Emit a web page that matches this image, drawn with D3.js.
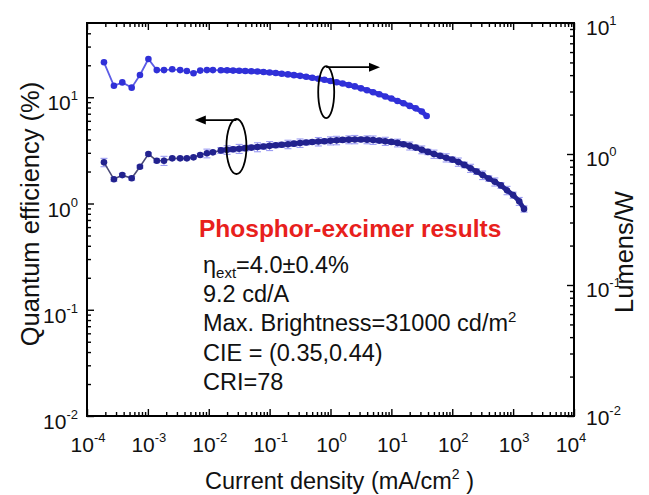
<!DOCTYPE html>
<html>
<head>
<meta charset="utf-8">
<script src="https://cdn.jsdelivr.net/npm/d3@7"></script>
<style>
  html, body { margin: 0; padding: 0; background: #fff; }
  svg { display: block; font-family: "Liberation Sans", Arial, sans-serif; }
</style>
</head>
<body>
<svg id="chart" width="649" height="495"></svg>
<script>
// ---------------- DATA ----------------
// Current density (mA/cm^2) for the Lumens/W series (right axis)
const currentLm = [1.9e-4, 2.77e-4, 3.8e-4, 5.42e-4, 7.41e-4, 1.02e-3, 1.40e-3, 1.84e-3, 2.51e-3, 3.39e-3,
  4.37e-3, 5.62e-3, 7.24e-3, 9.33e-3, 1.17e-2,
  0.0158, 0.02, 0.0251, 0.0316, 0.0398, 0.0501, 0.0631, 0.0794, 0.1, 0.126, 0.158, 0.2, 0.251, 0.316,
  0.398, 0.501, 0.631, 0.794, 1.0, 1.26, 1.58, 2.0, 2.51, 3.16, 3.98, 5.01, 6.31, 7.94, 10, 12.6,
  15.8, 20, 25.1, 31.6, 38];
const lumensPerW = [5.01, 3.32, 3.52, 3.21, 4.01, 5.31, 4.37, 4.37, 4.43, 4.37,
  4.30, 4.13, 4.33, 4.37, 4.37,
  4.36, 4.35, 4.33, 4.32, 4.30, 4.28, 4.26, 4.23, 4.19, 4.15, 4.10, 4.05, 4.00, 3.95,
  3.89, 3.82, 3.75, 3.69, 3.61, 3.53, 3.45, 3.36, 3.28, 3.17, 3.07, 2.96, 2.86, 2.75, 2.65, 2.54,
  2.44, 2.33, 2.23, 2.11, 1.95];

// Current density (mA/cm^2) for the quantum efficiency series (left axis)
const currentQE = [1.9e-4, 2.77e-4, 3.8e-4, 5.42e-4, 7.41e-4, 1.02e-3, 1.40e-3, 1.84e-3, 2.51e-3, 3.39e-3,
  4.37e-3, 5.62e-3, 7.24e-3, 9.33e-3, 1.17e-2,
  0.0158, 0.02, 0.0251, 0.0316, 0.0398, 0.0501, 0.0631, 0.0794, 0.1, 0.126, 0.158, 0.2, 0.251, 0.316,
  0.398, 0.501, 0.631, 0.794, 1, 1.26, 1.58, 2, 2.51, 3.16, 3.98, 5.01, 6.31, 7.94, 10, 12.6,
  15.8, 20, 25.1, 31.6, 39.8, 50.1, 63.1, 79.4, 100, 126, 158, 200, 251, 316, 398, 501, 631, 794,
  1000, 1259, 1510];
const quantumEff = [2.44, 1.69, 1.85, 1.73, 2.22, 2.92, 2.53, 2.53, 2.66, 2.66,
  2.66, 2.72, 2.86, 2.97, 3.03,
  3.16, 3.20, 3.24, 3.28, 3.32, 3.36, 3.40, 3.44, 3.49, 3.53, 3.57, 3.61, 3.66, 3.71,
  3.75, 3.79, 3.83, 3.86, 3.90, 3.93, 3.97, 3.99, 4.01, 4.01, 3.99, 3.96, 3.91, 3.86, 3.80, 3.72,
  3.61, 3.49, 3.36, 3.21, 3.06, 2.92, 2.81, 2.70, 2.59, 2.46, 2.31, 2.15, 2.00, 1.85, 1.72, 1.60,
  1.48, 1.33, 1.20, 1.05, 0.89];
const quantumEffErr = [0.22, 0.07, 0.07, 0.07, 0.07, 0.08, 0.10, 0.25, 0.08, 0.08,
  0.08, 0.08, 0.10, 0.28, 0.12,
  0.20, 0.30, 0.18, 0.32, 0.20, 0.18, 0.33, 0.20, 0.34, 0.18, 0.20, 0.33, 0.20, 0.34,
  0.20, 0.18, 0.35, 0.20, 0.34, 0.36, 0.20, 0.34, 0.36, 0.20, 0.34, 0.36, 0.20, 0.34, 0.20, 0.31,
  0.18, 0.30, 0.18, 0.27, 0.18, 0.26, 0.16, 0.24, 0.15, 0.22, 0.14, 0.19, 0.12, 0.17, 0.10, 0.14,
  0.09, 0.12, 0.08, 0.09, 0.06];
// number of leading, sparsely sampled points (drawn with a thin connecting line)
const sparseCount = 15;

// Axis tick exponents
const xExponents = [-4, -3, -2, -1, 0, 1, 2, 3, 4];
const yLeftExponents = [-2, -1, 0, 1];
const yRightExponents = [-2, -1, 0, 1];

// Text
const xTitle = "Current density (mA/cm";
const yLeftTitle = "Quantum efficiency (%)";
const yRightTitle = "Lumens/W";
const headline = "Phosphor-excimer results";
const infoLines = ["9.2 cd/A", "Max. Brightness=31000 cd/m", "CIE = (0.35,0.44)", "CRI=78"];

// ---------------- CHART ----------------
const svg = d3.select("#chart");
const L = 87, R = 574, T = 23, B = 416;

const x = d3.scaleLog().domain([1e-4, 1e4]).range([L, R]);
const yL = d3.scaleLog().domain([0.01, 50]).range([B, T]);
const yR = d3.scaleLog().domain([0.01, 10]).range([B, T]);

function minorTicks(scale) {
  const [a, b] = scale.domain();
  const out = [];
  for (let e = Math.floor(Math.log10(a)); e <= Math.ceil(Math.log10(b)); e++) {
    for (let m = 2; m <= 9; m++) {
      const v = m * Math.pow(10, e);
      if (v > a && v < b) out.push(v);
    }
  }
  return out;
}
const pow10 = e => Math.pow(10, e);

function addAxis(axis, transform) {
  const g = svg.append("g").attr("transform", transform).call(axis);
  g.select(".domain").remove();
  g.selectAll("line").attr("stroke", "#000").attr("stroke-width", 1.4);
  g.selectAll("text").remove();
}
addAxis(d3.axisBottom(x).tickValues(xExponents.map(pow10)).tickSize(-7), `translate(0,${B})`);
addAxis(d3.axisBottom(x).tickValues(minorTicks(x)).tickSize(-4), `translate(0,${B})`);
addAxis(d3.axisTop(x).tickValues(xExponents.map(pow10)).tickSize(-7), `translate(0,${T})`);
addAxis(d3.axisTop(x).tickValues(minorTicks(x)).tickSize(-4), `translate(0,${T})`);
addAxis(d3.axisLeft(yL).tickValues(yLeftExponents.map(pow10)).tickSize(-7), `translate(${L},0)`);
addAxis(d3.axisLeft(yL).tickValues(minorTicks(yL)).tickSize(-4), `translate(${L},0)`);
addAxis(d3.axisRight(yR).tickValues(yRightExponents.map(pow10)).tickSize(-7), `translate(${R},0)`);
addAxis(d3.axisRight(yR).tickValues(minorTicks(yR)).tickSize(-4), `translate(${R},0)`);

svg.append("rect").attr("x", L).attr("y", T).attr("width", R - L).attr("height", B - T)
  .attr("fill", "none").attr("stroke", "#000").attr("stroke-width", 2);

function powLabel(xPos, yPos, exp, anchor) {
  const t = svg.append("text").attr("x", xPos).attr("y", yPos)
    .attr("text-anchor", anchor).attr("font-size", 21).attr("fill", "#111");
  t.append("tspan").text("10");
  t.append("tspan").attr("dy", -10).attr("font-size", 13).text(String(exp));
}
xExponents.forEach(e => powLabel(x(pow10(e)) + (e === 4 ? -3 : 1), 452, e, "middle"));
yLeftExponents.forEach(e => powLabel(78, yL(pow10(e)) + 13, e, "end"));
yRightExponents.forEach(e => powLabel(586, yR(pow10(e)) + (e === -2 ? 9 : 12), e, "start"));

svg.append("text").attr("x", 205).attr("y", 489).attr("font-size", 23.5).attr("fill", "#111")
  .call(t => {
    t.append("tspan").text(xTitle);
    t.append("tspan").attr("dy", -10).attr("font-size", 14).text("2");
    t.append("tspan").attr("dy", 10).text(" )");
  });
svg.append("text").attr("transform", "translate(39,214) rotate(-90)")
  .attr("text-anchor", "middle").attr("font-size", 25.5).attr("fill", "#111").text(yLeftTitle);
svg.append("text").attr("transform", "translate(633,252) rotate(-90)")
  .attr("text-anchor", "middle").attr("font-size", 25.5).attr("fill", "#111").text(yRightTitle);

// ---- series: Lumens/W (right axis) ----
const lmData = currentLm.map((c, i) => ({ c, v: lumensPerW[i] }));
const lmLine = d3.line().x(d => x(d.c)).y(d => yR(d.v));
svg.append("path").datum(lmData.slice(0, sparseCount + 1))
  .attr("d", lmLine).attr("fill", "none").attr("stroke", "#5c5ce6").attr("stroke-width", 1.8);
svg.append("path").datum(lmData.slice(sparseCount))
  .attr("d", lmLine).attr("fill", "none").attr("stroke", "#3535da").attr("stroke-width", 4.6)
  .attr("stroke-linecap", "round");
svg.append("g").selectAll("circle").data(lmData).join("circle")
  .attr("cx", d => x(d.c)).attr("cy", d => yR(d.v)).attr("r", 3.3)
  .attr("fill", "#3030d8");

// ---- series: Quantum efficiency (left axis) ----
const qeData = currentQE.map((c, i) => ({ c, v: quantumEff[i], e: quantumEffErr[i] }));
const eb = svg.append("g").attr("stroke", "#9c9cf2").attr("stroke-width", 1.1);
qeData.forEach(d => {
  const cx = x(d.c), y0 = yL(d.v - d.e), y1 = yL(d.v + d.e);
  eb.append("line").attr("x1", cx).attr("x2", cx).attr("y1", y0).attr("y2", y1);
  eb.append("line").attr("x1", cx - 3.5).attr("x2", cx + 3.5).attr("y1", y0).attr("y2", y0);
  eb.append("line").attr("x1", cx - 3.5).attr("x2", cx + 3.5).attr("y1", y1).attr("y2", y1);
});
const qeLine = d3.line().x(d => x(d.c)).y(d => yL(d.v));
svg.append("path").datum(qeData.slice(0, sparseCount + 1))
  .attr("d", qeLine).attr("fill", "none").attr("stroke", "#4a4a78").attr("stroke-width", 1.6);
svg.append("path").datum(qeData.slice(sparseCount))
  .attr("d", qeLine).attr("fill", "none").attr("stroke", "#24248f").attr("stroke-width", 4.6)
  .attr("stroke-linecap", "round");
svg.append("g").selectAll("circle").data(qeData).join("circle")
  .attr("cx", d => x(d.c)).attr("cy", d => yL(d.v)).attr("r", 3.3)
  .attr("fill", "#22228e");

// ---- annotations: ellipses with arrows ----
const ann = svg.append("g").attr("stroke", "#000").attr("stroke-width", 1.8).attr("fill", "none");
ann.append("ellipse").attr("cx", x(0.85)).attr("cy", yR(2.97)).attr("rx", 8).attr("ry", 26);
ann.append("line").attr("x1", x(0.85)).attr("x2", x(4.6)).attr("y1", yR(4.6)).attr("y2", yR(4.6));
svg.append("path").attr("fill", "#000")
  .attr("d", `M${x(6.5)},${yR(4.6)} l-11,-4.5 l0,9 z`);
ann.append("ellipse").attr("cx", x(0.0285)).attr("cy", yL(3.44)).attr("rx", 10).attr("ry", 27.5);
ann.append("line").attr("x1", x(0.0285)).attr("x2", x(0.0084)).attr("y1", yL(6.1)).attr("y2", yL(6.1));
svg.append("path").attr("fill", "#000")
  .attr("d", `M${x(0.0059)},${yL(6.1)} l11,-4.5 l0,9 z`);

// ---- text block ----
svg.append("text").attr("x", 199).attr("y", 237).attr("font-size", 24.5).attr("font-weight", "bold")
  .attr("fill", "#e8201c").text(headline);
const eta = svg.append("text").attr("x", 203).attr("y", 273).attr("font-size", 23.5).attr("fill", "#111");
eta.append("tspan").text("\u03B7");
eta.append("tspan").attr("dy", 5).attr("font-size", 15).text("ext");
eta.append("tspan").attr("dy", -5).text("=4.0\u00B10.4%");
infoLines.forEach((s, i) => {
  const t = svg.append("text").attr("x", 203).attr("y", 302 + i * 29.4).attr("font-size", 23.5).attr("fill", "#111");
  t.append("tspan").text(s);
  if (i === 1) t.append("tspan").attr("dy", -9).attr("font-size", 15).text("2");
});
</script>
</body>
</html>
